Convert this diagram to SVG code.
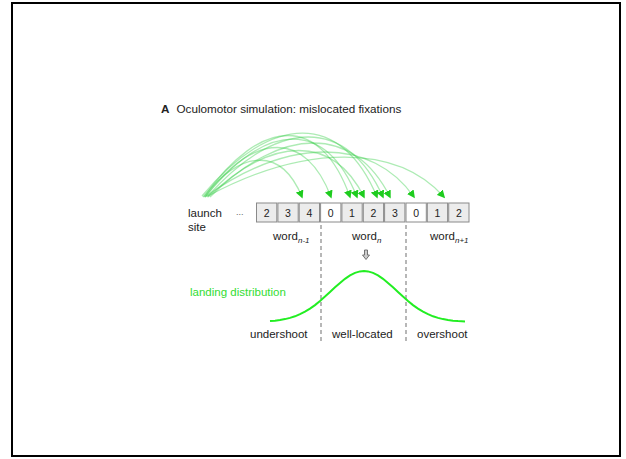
<svg xmlns="http://www.w3.org/2000/svg" width="626" height="459" viewBox="0 0 626 459">
  <style>
    text { font-family: "Liberation Sans", Arial, sans-serif; fill: #222; }
    .lbl { font-size: 11.5px; }
    .digit { font-size: 10.5px; text-anchor: middle; }
    .cell { stroke: #8a8a8a; stroke-width: 1; }
    .cell-in { fill: #ececec; }
    .cell-sp { fill: #ffffff; }
    .arc { fill: none; stroke: #33cc44; stroke-opacity: 0.4; stroke-width: 1.3; marker-end: url(#tip); }
    .divider { stroke: #888; stroke-width: 1.2; stroke-dasharray: 4 3; fill: none; }
    .sub { font-size: 8px; font-style: italic; }
  </style>
  <defs>
    <marker id="tip" viewBox="0 0 10 10" refX="8" refY="5" markerWidth="8" markerHeight="8" markerUnits="userSpaceOnUse" orient="auto">
      <path d="M0,0 L10,5 L0,10 Z" fill="#1ecc1e"/>
    </marker>
  </defs>

  <!-- outer frame -->
  <rect x="12" y="3" width="608" height="453" fill="#fff" stroke="#000" stroke-width="2"/>

  <!-- panel title -->
  <g id="title">
    <text x="161" y="113" font-size="11.7" font-weight="bold">A</text>
    <text x="176.5" y="113" font-size="11.7">Oculomotor simulation: mislocated fixations</text>
  </g>

  <!-- saccade trajectories from the launch site -->
  <g id="connectors">
    <path class="arc" d="M203,197 C243,148 282,148 302,197"/>
    <path class="arc" d="M205,197 C255,131 306,131 331,197"/>
    <path class="arc" d="M204,197 C262,115 321,115 350,197"/>
    <path class="arc" d="M206,196 C268,120 326,120 357,197"/>
    <path class="arc" d="M208,197 C273,135 333,135 364,197"/>
    <path class="arc" d="M202,196 C272,112 342,112 377,197"/>
    <path class="arc" d="M207,197 C279,117 347,117 383,197"/>
    <path class="arc" d="M210,197 C282,125 354,125 390,197"/>
    <path class="arc" d="M205,197 C289,137 372,137 414,197"/>
    <path class="arc" d="M208,196 C305,144 397,144 444,197"/>
  </g>

  <!-- launch site label -->
  <g id="launch-site">
    <text x="188" y="217" class="lbl">launch</text>
    <text x="188" y="231" class="lbl">site</text>
    <text x="236" y="215" font-size="9" style="fill:#666">...</text>
  </g>

  <!-- letter cells: word n-1 -->
  <g id="word-n-minus-1">
    <rect class="cell cell-in" x="256.5" y="203" width="20.3" height="19"/>
    <text class="digit" x="266.6" y="216.5">2</text>
    <rect class="cell cell-in" x="277.9" y="203" width="20.3" height="19"/>
    <text class="digit" x="288" y="216.5">3</text>
    <rect class="cell cell-in" x="299.2" y="203" width="20.3" height="19"/>
    <text class="digit" x="309.4" y="216.5">4</text>
    <text class="lbl" x="273" y="240">word<tspan class="sub" dy="3">n-1</tspan></text>
  </g>

  <!-- letter cells: word n -->
  <g id="word-n">
    <rect class="cell cell-sp" x="320.6" y="203" width="20.3" height="19"/>
    <text class="digit" x="330.7" y="216.5">0</text>
    <rect class="cell cell-in" x="341.9" y="203" width="20.3" height="19"/>
    <text class="digit" x="352" y="216.5">1</text>
    <rect class="cell cell-in" x="363.3" y="203" width="20.3" height="19"/>
    <text class="digit" x="373.4" y="216.5">2</text>
    <rect class="cell cell-in" x="384.6" y="203" width="20.3" height="19"/>
    <text class="digit" x="394.8" y="216.5">3</text>
    <text class="lbl" x="352" y="240">word<tspan class="sub" dy="3">n</tspan></text>
  </g>

  <!-- letter cells: word n+1 -->
  <g id="word-n-plus-1">
    <rect class="cell cell-sp" x="406" y="203" width="20.3" height="19"/>
    <text class="digit" x="416.1" y="216.5">0</text>
    <rect class="cell cell-in" x="427.3" y="203" width="20.3" height="19"/>
    <text class="digit" x="437.4" y="216.5">1</text>
    <rect class="cell cell-in" x="448.7" y="203" width="20.3" height="19"/>
    <text class="digit" x="458.8" y="216.5">2</text>
    <text class="lbl" x="430" y="240">word<tspan class="sub" dy="3">n+1</tspan></text>
  </g>

  <!-- word boundaries -->
  <g id="boundaries">
    <line class="divider" x1="321" y1="225" x2="321" y2="344"/>
    <line class="divider" x1="406" y1="225" x2="406" y2="344"/>
  </g>

  <!-- hollow down arrow above the peak -->
  <g id="peak-marker">
    <path d="M364.5,250 L367.5,250 L367.5,255 L369.5,255 L366,259.5 L362.5,255 L364.5,255 Z" fill="#ccc" stroke="#666" stroke-width="0.9"/>
  </g>

  <!-- landing distribution (gaussian, mu=364, sigma=33) -->
  <g id="landing-distribution">
    <path fill="none" stroke="#22ee22" stroke-width="2" d="M270,321.1 L275,320.7 L280,320.0 L285,319.1 L290,317.9 L295,316.3 L300,314.2 L305,311.7 L310,308.6 L315,305.1 L320,301.0 L325,296.6 L330,292.0 L335,287.3 L340,282.9 L345,278.8 L350,275.4 L355,272.9 L360,271.4 L364,271.0 L368,271.4 L373,272.9 L378,275.4 L383,278.8 L388,282.9 L393,287.3 L398,292.0 L403,296.6 L408,301.0 L413,305.1 L418,308.6 L423,311.7 L428,314.2 L433,316.3 L438,317.9 L443,319.1 L448,320.0 L453,320.7 L458,321.1 L465,321.5"/>
    <text x="190" y="296" class="lbl" style="fill:#33dd33">landing distribution</text>
  </g>

  <!-- landing outcome regions -->
  <g id="outcomes">
    <text x="250" y="338" class="lbl">undershoot</text>
    <text x="332" y="338" class="lbl">well-located</text>
    <text x="417" y="338" class="lbl">overshoot</text>
  </g>
</svg>
